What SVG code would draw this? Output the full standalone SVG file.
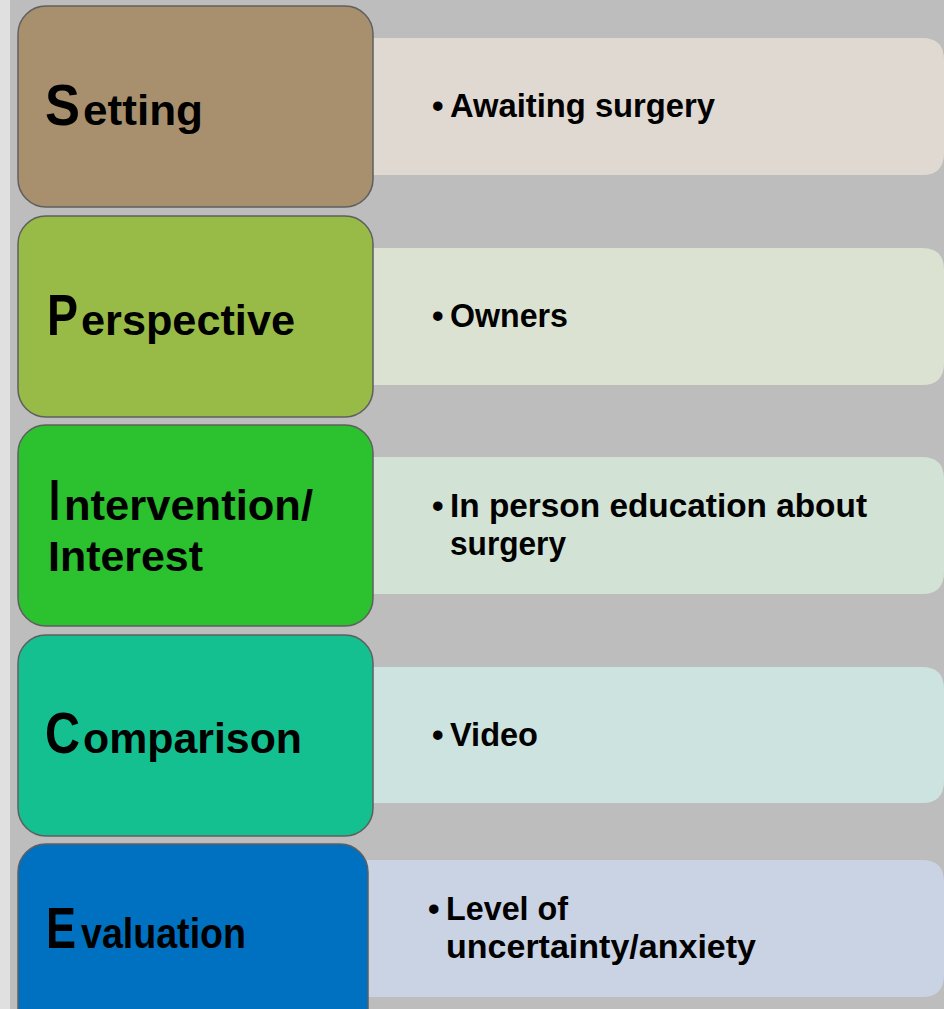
<svg xmlns="http://www.w3.org/2000/svg" width="944" height="1009" viewBox="0 0 944 1009">
<style>
.bg{fill:#bdbdbd}
.lb{stroke:#5f5f5f;stroke-width:1.5}
.t{font-family:"Liberation Sans",Arial,sans-serif;font-weight:bold;fill:#000}
.big{font-size:58px}
.mid{font-size:43px}
.bul{font-size:33px}
</style>
<rect x="0" y="0" width="944" height="1009" class="bg"/>
<rect x="0" y="0" width="10" height="1009" fill="#e0e0e0"/>
<g id="setting">
<path d="M360,38 H922 Q944,38 944,60 V153 Q944,175 922,175 H360 Z" fill="#e0d9d2"/>
<rect x="18" y="6" width="355" height="201" rx="28" fill="#a8906e" class="lb"/>
<text class="t big" x="45" y="125" textLength="35" lengthAdjust="spacingAndGlyphs">S</text>
<text class="t mid" x="83" y="125" textLength="120" lengthAdjust="spacingAndGlyphs">etting</text>
<text class="t bul" y="117"><tspan x="432">•</tspan><tspan x="450" textLength="265" lengthAdjust="spacingAndGlyphs">Awaiting surgery</tspan></text>
</g>
<g id="perspective">
<path d="M360,248 H922 Q944,248 944,270 V363 Q944,385 922,385 H360 Z" fill="#dbe2d2"/>
<rect x="18" y="216" width="355" height="201" rx="28" fill="#98bb47" class="lb"/>
<text class="t big" x="47" y="335" textLength="31" lengthAdjust="spacingAndGlyphs">P</text>
<text class="t mid" x="81" y="335" textLength="214" lengthAdjust="spacingAndGlyphs">erspective</text>
<text class="t bul" y="327"><tspan x="432">•</tspan><tspan x="450" textLength="118" lengthAdjust="spacingAndGlyphs">Owners</tspan></text>
</g>
<g id="intervention">
<path d="M360,457 H922 Q944,457 944,479 V572 Q944,594 922,594 H360 Z" fill="#d2e2d4"/>
<rect x="18" y="425" width="355" height="201" rx="28" fill="#2cc12e" class="lb"/>
<text class="t big" x="49" y="520" textLength="11" lengthAdjust="spacingAndGlyphs">I</text>
<text class="t mid" x="64" y="520" textLength="249" lengthAdjust="spacingAndGlyphs">ntervention/</text>
<text class="t mid" x="48" y="571" textLength="155" lengthAdjust="spacingAndGlyphs">Interest</text>
<text class="t bul" y="517"><tspan x="432">•</tspan><tspan x="450" textLength="417" lengthAdjust="spacingAndGlyphs">In person education about</tspan></text>
<text class="t bul" x="450" y="555" textLength="116" lengthAdjust="spacingAndGlyphs">surgery</text>
</g>
<g id="comparison">
<path d="M360,667 H922 Q944,667 944,689 V781 Q944,803 922,803 H360 Z" fill="#cde3df"/>
<rect x="18" y="635" width="355" height="201" rx="28" fill="#14c08f" class="lb"/>
<text class="t big" x="45" y="753" textLength="35" lengthAdjust="spacingAndGlyphs">C</text>
<text class="t mid" x="83" y="753" textLength="219" lengthAdjust="spacingAndGlyphs">omparison</text>
<text class="t bul" y="746"><tspan x="432">•</tspan><tspan x="450" textLength="88" lengthAdjust="spacingAndGlyphs">Video</tspan></text>
</g>
<g id="evaluation">
<path d="M355,860 H922 Q944,860 944,882 V975 Q944,997 922,997 H355 Z" fill="#c9d3e3"/>
<rect x="18" y="844" width="350" height="201" rx="28" fill="#0070c0" class="lb"/>
<text class="t big" x="46" y="948" textLength="30" lengthAdjust="spacingAndGlyphs">E</text>
<text class="t mid" x="81" y="948" textLength="165" lengthAdjust="spacingAndGlyphs">valuation</text>
<text class="t bul" y="920"><tspan x="428">•</tspan><tspan x="446" textLength="122" lengthAdjust="spacingAndGlyphs">Level of</tspan></text>
<text class="t bul" x="446" y="958" textLength="310" lengthAdjust="spacingAndGlyphs">uncertainty/anxiety</text>
</g>
<g id="connectors"/>
</svg>
